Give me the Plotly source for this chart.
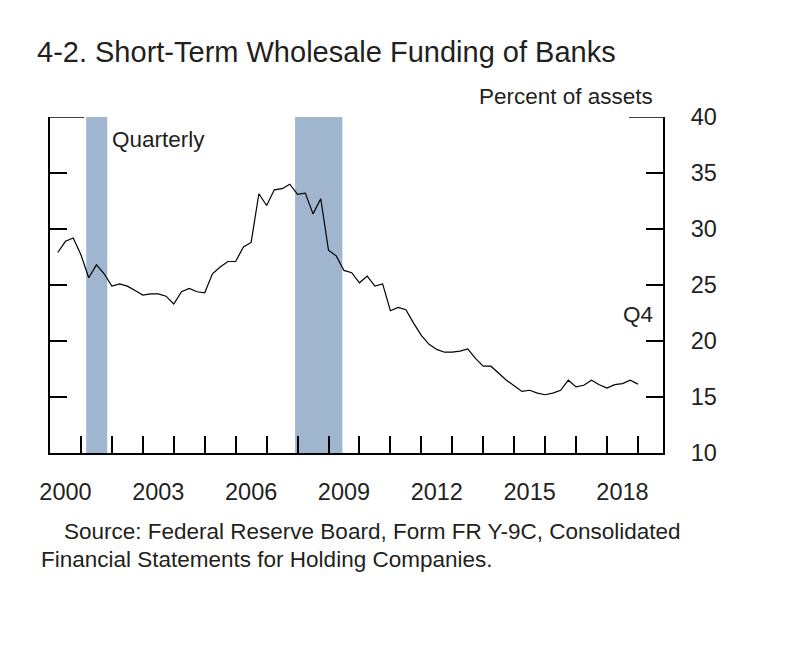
import plotly.graph_objects as go

# quarterly short-term wholesale funding, percent of assets (2000 Q1 - 2018 Q4)
years = list(range(2000, 2019))
funding = [
    27.9, 28.9, 29.2, 27.7,    # 2000
    25.65, 26.8, 26.0, 24.9,   # 2001
    25.1, 24.9, 24.5, 24.1,    # 2002
    24.2, 24.2, 24.0, 23.3,    # 2003
    24.4, 24.7, 24.4, 24.3,    # 2004
    26.0, 26.6, 27.1, 27.1,    # 2005
    28.4, 28.8, 33.15, 32.1,   # 2006
    33.5, 33.6, 34.0, 33.1,    # 2007
    33.2, 31.35, 32.7, 28.1,   # 2008
    27.6, 26.3, 26.1, 25.2,    # 2009
    25.8, 24.9, 25.1, 22.7,    # 2010
    23.0, 22.8, 21.6, 20.5,    # 2011
    19.7, 19.25, 19.0, 19.0,   # 2012
    19.1, 19.3, 18.45, 17.75,  # 2013
    17.75, 17.1, 16.5, 16.0,   # 2014
    15.5, 15.6, 15.35, 15.2,   # 2015
    15.35, 15.6, 16.5, 15.9,   # 2016
    16.05, 16.5, 16.1, 15.8,   # 2017
    16.1, 16.2, 16.5, 16.15,   # 2018
]
# quarter-end positions in decimal years
quarters = [y + q / 4 for y in years for q in range(1, 5)]

# NBER recessions (decimal years)
recessions = [(2001.17, 2001.85), (2007.92, 2009.45)]

label_years = [2000, 2003, 2006, 2009, 2012, 2015, 2018]
y_ticks = [10, 15, 20, 25, 30, 35, 40]

FONT = "Liberation Sans, Arial, sans-serif"
INK = "#231f20"
TXT = 22.5

# the page body adds 8px around the figure, so pull everything back by that
PAD = 8
PLOT_W, PLOT_H = 612.7, 336
L, T = 50 - PAD, 117 - PAD

fig = go.Figure()
fig.add_trace(go.Scatter(x=quarters, y=funding, mode="lines",
                         line=dict(color="black", width=1.2),
                         showlegend=False, hoverinfo="x+y"))
fig.add_trace(go.Scatter(x=[quarters[0]], y=[funding[0]], yaxis="y2",
                         mode="markers", marker=dict(opacity=0),
                         showlegend=False, hoverinfo="skip"))

for start, end in recessions:
    fig.add_vrect(x0=start, x1=end, fillcolor="#a0b6cf", opacity=1,
                  line_width=0, layer="below")

# longer ticks at the top of both axes
fig.add_shape(type="line", xref="paper", yref="y", x0=0, x1=34 / PLOT_W,
              y0=40, y1=40, line=dict(color="black", width=1.5))
fig.add_shape(type="line", xref="paper", yref="y", x0=1 - 34 / PLOT_W, x1=1,
              y0=40, y1=40, line=dict(color="black", width=1.5))

fig.update_layout(
    width=790, height=652,
    paper_bgcolor="white", plot_bgcolor="white",
    margin=dict(l=L, r=790 - L - PLOT_W, t=T, b=652 - T - PLOT_H),
    font=dict(family=FONT, size=TXT, color=INK),
    title=dict(text="4-2. Short-Term Wholesale Funding of Banks",
               x=(37 - PAD) / 790, xanchor="left", xref="container",
               y=1 - (52 - PAD) / 652, yanchor="middle", yref="container",
               font=dict(size=29, color=INK)),
    xaxis=dict(range=[2000, 2019.81], showgrid=False, zeroline=False,
               showline=True, linecolor="black", linewidth=1.5,
               tickvals=[y + 0.5 for y in label_years],
               ticktext=[str(y) for y in label_years],
               ticks="", ticklabelstandoff=17,
               tickfont=dict(size=23.5, color=INK),
               minor=dict(tickvals=list(range(2001, 2020)), ticks="inside",
                          ticklen=17, tickwidth=1.5, tickcolor="black")),
    yaxis=dict(range=[10, 40], showgrid=False, zeroline=False,
               showline=True, linecolor="black", linewidth=1.5,
               mirror="ticks",
               tickvals=y_ticks, ticks="inside", ticklen=17,
               tickwidth=1.5, tickcolor="black", showticklabels=False),
    yaxis2=dict(range=[10, 40], overlaying="y", side="right",
                showgrid=False, zeroline=False, showline=False,
                tickvals=y_ticks, ticks="outside", ticklen=22,
                tickcolor="rgba(0,0,0,0)",
                tickfont=dict(size=23.5, color=INK)),
)


def xp(px):
    return (px - 50) / PLOT_W


def yp(py):
    return (453 - py) / PLOT_H


notes = [
    dict(text="Percent of assets", x=xp(655), y=yp(96), xanchor="right"),
    dict(text="Quarterly", x=xp(110), y=yp(139), xanchor="left"),
    dict(text="Q4", x=xp(637.7), y=yp(314), xanchor="center"),
    dict(text="Source: Federal Reserve Board, Form FR Y-9C, Consolidated",
         x=xp(62), y=yp(531), xanchor="left"),
    dict(text="Financial Statements for Holding Companies.",
         x=xp(39), y=yp(559), xanchor="left"),
]
for n in notes:
    fig.add_annotation(text=n["text"], x=n["x"], y=n["y"], xref="paper",
                       yref="paper", xanchor=n["xanchor"], yanchor="middle",
                       showarrow=False, font=dict(size=TXT, color=INK))

fig.write_html("out.html")
